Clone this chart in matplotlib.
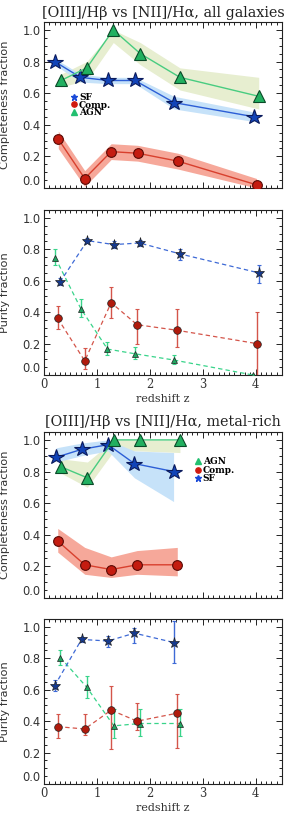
import matplotlib
matplotlib.use("Agg")
import matplotlib.pyplot as plt
from matplotlib.lines import Line2D
from matplotlib.ticker import MultipleLocator

# ---------------- data ----------------
# Panel 1: completeness, all galaxies
c1_sf_z = [0.20, 0.69, 1.21, 1.72, 2.46, 3.98]
c1_sf = [0.80, 0.70, 0.68, 0.68, 0.54, 0.45]
c1_sf_lo = [0.78, 0.67, 0.66, 0.66, 0.50, 0.42]
c1_sf_hi = [0.82, 0.72, 0.70, 0.70, 0.58, 0.48]
c1_comp_z = [0.27, 0.77, 1.27, 1.77, 2.53, 4.02]
c1_comp = [0.31, 0.06, 0.23, 0.22, 0.17, 0.02]
c1_comp_lo = [0.25, 0.01, 0.18, 0.17, 0.12, 0.00]
c1_comp_hi = [0.36, 0.11, 0.28, 0.27, 0.22, 0.06]
c1_agn_z = [0.32, 0.81, 1.31, 1.82, 2.57, 4.06]
c1_agn = [0.68, 0.76, 1.00, 0.85, 0.70, 0.58]
c1_agn_lo = [0.64, 0.68, 0.92, 0.78, 0.62, 0.50]
c1_agn_hi = [0.72, 0.80, 1.00, 0.92, 0.76, 0.70]

# Panel 2: purity, all galaxies
p1_sf_z = [0.30, 0.82, 1.32, 1.81, 2.58, 4.06]
p1_sf = [0.59, 0.855, 0.83, 0.84, 0.77, 0.65]
p1_sf_lo = [0.57, 0.84, 0.81, 0.82, 0.73, 0.585]
p1_sf_hi = [0.62, 0.87, 0.85, 0.86, 0.80, 0.70]
p1_comp_z = [0.26, 0.77, 1.27, 1.76, 2.51, 4.02]
p1_comp = [0.36, 0.09, 0.46, 0.32, 0.285, 0.20]
p1_comp_lo = [0.29, 0.04, 0.36, 0.20, 0.18, 0.00]
p1_comp_hi = [0.44, 0.17, 0.56, 0.42, 0.42, 0.40]
p1_agn_z = [0.215, 0.70, 1.20, 1.72, 2.46, 3.95]
p1_agn = [0.745, 0.42, 0.165, 0.135, 0.095, 0.0]
p1_agn_lo = [0.70, 0.37, 0.13, 0.10, 0.07, 0.0]
p1_agn_hi = [0.80, 0.485, 0.21, 0.18, 0.13, 0.0]

# Panel 3: completeness, metal-rich
c2_sf_z = [0.23, 0.71, 1.21, 1.71, 2.45]
c2_sf = [0.89, 0.94, 0.97, 0.85, 0.80]
c2_sf_lo = [0.86, 0.90, 0.93, 0.76, 0.61]
c2_sf_hi = [0.95, 0.98, 1.00, 0.93, 0.92]
c2_comp_z = [0.26, 0.77, 1.27, 1.76, 2.52]
c2_comp = [0.36, 0.21, 0.18, 0.21, 0.21]
c2_comp_lo = [0.29, 0.15, 0.13, 0.15, 0.14]
c2_comp_hi = [0.44, 0.32, 0.26, 0.30, 0.32]
c2_agn_z = [0.32, 0.82, 1.32, 1.82, 2.57]
c2_agn = [0.83, 0.76, 1.00, 1.00, 1.00]
c2_agn_lo = [0.79, 0.70, 0.93, 0.93, 0.92]
c2_agn_hi = [0.88, 0.86, 1.00, 1.00, 1.00]

# Panel 4: purity, metal-rich
p2_sf_z = [0.20, 0.71, 1.21, 1.71, 2.46]
p2_sf = [0.625, 0.92, 0.91, 0.96, 0.90]
p2_sf_lo = [0.59, 0.905, 0.875, 0.90, 0.77]
p2_sf_hi = [0.66, 0.935, 0.94, 0.99, 1.04]
p2_comp_z = [0.26, 0.77, 1.27, 1.76, 2.51]
p2_comp = [0.365, 0.35, 0.47, 0.40, 0.45]
p2_comp_lo = [0.29, 0.315, 0.22, 0.345, 0.23]
p2_comp_hi = [0.445, 0.445, 0.625, 0.515, 0.57]
p2_agn_z = [0.31, 0.81, 1.32, 1.82, 2.57]
p2_agn = [0.805, 0.615, 0.37, 0.385, 0.385]
p2_agn_lo = [0.755, 0.545, 0.29, 0.305, 0.305]
p2_agn_hi = [0.85, 0.69, 0.48, 0.48, 0.48]

x_ticks = [0, 1, 2, 3, 4]
y_ticks = [0.0, 0.2, 0.4, 0.6, 0.8, 1.0]

# ---------------- styles ----------------
SF_FACE, SF_EDGE, SF_LINE, SF_BAND = "#1244b8", "#0a1a5c", "#2c5ed6", "#c6e2f9"
CO_FACE, CO_EDGE, CO_LINE, CO_BAND = "#c41c10", "#5a0a05", "#d8402e", "#f6a89a"
AG_FACE, AG_EDGE, AG_LINE, AG_BAND = "#22b060", "#0a4a28", "#48cc80", "#e7eed0"

PSF_FACE, PSF_ERR = "#163a8e", "#3e6ad6"
PCO_FACE, PCO_ERR = "#b01a0c", "#d4554a"
PAG_FACE, PAG_ERR = "#20a862", "#38d48a"

W, H = 290, 817
fig = plt.figure(figsize=(W / 100, H / 100), dpi=100)

def px_axes(top, bottom, left=44, right=282):
    return fig.add_axes([left / W, 1 - bottom / H, (right - left) / W, (bottom - top) / H])

def style_axes(ax, xlabels):
    ax.set_xlim(0, 4.5)
    ax.set_ylim(0, 1.05)
    ax.set_xticks(x_ticks)
    ax.set_yticks(y_ticks)
    ax.set_yticklabels(["%.1f" % v for v in y_ticks])
    ax.xaxis.set_minor_locator(MultipleLocator(0.1))
    ax.yaxis.set_minor_locator(MultipleLocator(0.05))
    ax.tick_params(which="both", direction="in", top=True, right=True,
                   colors="#222222", labelcolor="#333333", labelsize=8.3, width=0.7)
    ax.tick_params(which="major", length=4.5, pad=2.5)
    ax.tick_params(which="minor", length=2.2)
    if xlabels:
        ax.set_xticklabels([str(v) for v in x_ticks], family="DejaVu Serif")
    else:
        ax.set_xticklabels([])
    for s in ax.spines.values():
        s.set_color("#222222")
        s.set_linewidth(0.8)
    ax.yaxis.get_major_ticks()[0].label1.set_va("bottom")
    ax.yaxis.set_label_coords(-0.143, 0.5)

def band(ax, zs, los, his, color):
    ax.fill_between(zs, los, his, color=color, lw=0, zorder=1)

def comp_lines(ax, zs, vals, face, edge, line, marker, ms):
    ax.plot(zs, vals, color=line, lw=1.0, marker=marker, ms=ms, mfc=face,
            mec=edge, mew=0.8, zorder=3)

def purity(ax, zs, vals, los, his, face, err, marker, ms):
    yerr = [[v - l for v, l in zip(vals, los)], [h - v for v, h in zip(vals, his)]]
    ax.errorbar(zs, vals, yerr=yerr, fmt="none", ecolor=err, elinewidth=1.0,
                capsize=1.6, capthick=0.8, zorder=2)
    ax.plot(zs, vals, ls=(0, (3.5, 2.5)), color=err, lw=0.9, zorder=2)
    ax.plot(zs, vals, ls="none", marker=marker, ms=ms, mfc=face, mec="#202020",
            mew=0.5, zorder=3)

title_font = dict(family="DejaVu Serif", fontsize=10.4, color="#222222")
label_font = dict(family="DejaVu Sans", fontsize=8.2, color="#333333")
leg_font = {"family": "DejaVu Serif", "size": 6.5, "weight": "bold"}

# ---------------- Panel 1 ----------------
ax1 = px_axes(22, 188)
band(ax1, c1_agn_z, c1_agn_lo, c1_agn_hi, AG_BAND)
band(ax1, c1_sf_z, c1_sf_lo, c1_sf_hi, SF_BAND)
band(ax1, c1_comp_z, c1_comp_lo, c1_comp_hi, CO_BAND)
comp_lines(ax1, c1_sf_z, c1_sf, SF_FACE, SF_EDGE, SF_LINE, "*", 11.5)
comp_lines(ax1, c1_comp_z, c1_comp, CO_FACE, CO_EDGE, CO_LINE, "o", 7)
comp_lines(ax1, c1_agn_z, c1_agn, AG_FACE, AG_EDGE, AG_LINE, "^", 8)
style_axes(ax1, False)
ax1.set_ylabel("Completeness fraction", **label_font)
fig.text(163 / W, 1 - 13 / H, "[OIII]/H\u03b2 vs [NII]/H\u03b1, all galaxies",
         ha="center", va="center", **title_font)
h1 = [Line2D([], [], ls="none", marker="*", ms=5, color="#1a4ad8"),
      Line2D([], [], ls="none", marker="o", ms=3.8, color="#d01a10"),
      Line2D([], [], ls="none", marker="^", ms=3.8, color="#22c070")]
ax1.legend(h1, ["SF", "Comp.", "AGN"], loc="center left", bbox_to_anchor=(0.115, 0.50),
           frameon=False, prop=leg_font, handlelength=0.6, handletextpad=0.25,
           labelspacing=-0.15, borderpad=0, borderaxespad=0)

# ---------------- Panel 2 ----------------
ax2 = px_axes(210, 375)
purity(ax2, p1_agn_z, p1_agn, p1_agn_lo, p1_agn_hi, PAG_FACE, PAG_ERR, "^", 5)
purity(ax2, p1_comp_z, p1_comp, p1_comp_lo, p1_comp_hi, PCO_FACE, PCO_ERR, "o", 5.5)
purity(ax2, p1_sf_z, p1_sf, p1_sf_lo, p1_sf_hi, PSF_FACE, PSF_ERR, "*", 8)
style_axes(ax2, True)
ax2.set_ylabel("Purity fraction", **label_font)
ax2.set_xlabel("redshift z", family="DejaVu Serif", fontsize=8, color="#333333", labelpad=2)

# ---------------- Panel 3 ----------------
ax3 = px_axes(432, 598)
band(ax3, c2_agn_z, c2_agn_lo, c2_agn_hi, AG_BAND)
band(ax3, c2_sf_z, c2_sf_lo, c2_sf_hi, SF_BAND)
band(ax3, c2_comp_z, c2_comp_lo, c2_comp_hi, CO_BAND)
comp_lines(ax3, c2_sf_z, c2_sf, SF_FACE, SF_EDGE, SF_LINE, "*", 11.5)
comp_lines(ax3, c2_comp_z, c2_comp, CO_FACE, CO_EDGE, CO_LINE, "o", 7)
comp_lines(ax3, c2_agn_z, c2_agn, AG_FACE, AG_EDGE, AG_LINE, "^", 8)
style_axes(ax3, False)
ax3.set_ylabel("Completeness fraction", **label_font)
fig.text(163 / W, 1 - 422 / H, "[OIII]/H\u03b2 vs [NII]/H\u03b1, metal-rich",
         ha="center", va="center", **title_font)
h3 = [Line2D([], [], ls="none", marker="^", ms=3.8, color="#22c070"),
      Line2D([], [], ls="none", marker="o", ms=3.8, color="#d01a10"),
      Line2D([], [], ls="none", marker="*", ms=5, color="#1a4ad8")]
ax3.legend(h3, ["AGN", "Comp.", "SF"], loc="center left", bbox_to_anchor=(0.635, 0.77),
           frameon=False, prop=leg_font, handlelength=0.6, handletextpad=0.25,
           labelspacing=-0.05, borderpad=0, borderaxespad=0)

# ---------------- Panel 4 ----------------
ax4 = px_axes(619, 784)
purity(ax4, p2_agn_z, p2_agn, p2_agn_lo, p2_agn_hi, PAG_FACE, PAG_ERR, "^", 5)
purity(ax4, p2_comp_z, p2_comp, p2_comp_lo, p2_comp_hi, PCO_FACE, PCO_ERR, "o", 5.5)
purity(ax4, p2_sf_z, p2_sf, p2_sf_lo, p2_sf_hi, PSF_FACE, PSF_ERR, "*", 8)
style_axes(ax4, True)
ax4.set_ylabel("Purity fraction", **label_font)
ax4.set_xlabel("redshift z", family="DejaVu Serif", fontsize=8, color="#333333", labelpad=2)

fig.savefig("out.png", dpi=100, facecolor="white")
